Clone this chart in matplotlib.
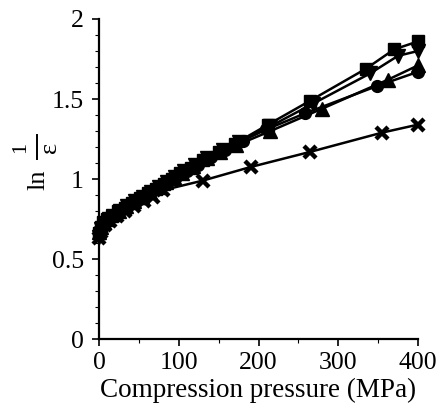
import numpy as np
import matplotlib
matplotlib.use('Agg')
import matplotlib.pyplot as plt
from matplotlib.lines import Line2D
from matplotlib.ticker import MultipleLocator

### Data (pressure in MPa, ln(1/eps))

pSquare = [0, 2, 5, 10, 16, 24, 32, 42, 52, 62, 72, 82, 92, 102, 115, 130, 150, 170, 212, 265, 335, 370, 400]
ySquare = [0.66, 0.70, 0.73, 0.75, 0.77, 0.80, 0.82, 0.85, 0.88, 0.91, 0.94, 0.97, 1.00, 1.04, 1.07, 1.12, 1.17, 1.22, 1.34, 1.49, 1.69, 1.81, 1.86]

pDown = [0, 3, 7, 12, 18, 26, 35, 45, 55, 65, 75, 85, 95, 106, 120, 135, 155, 175, 215, 268, 340, 375, 400]
yDown = [0.64, 0.69, 0.72, 0.75, 0.77, 0.80, 0.83, 0.86, 0.89, 0.92, 0.95, 0.98, 1.01, 1.05, 1.09, 1.13, 1.18, 1.23, 1.33, 1.47, 1.66, 1.77, 1.80]

pUp = [0, 2, 6, 11, 17, 25, 34, 44, 54, 64, 74, 84, 94, 104, 118, 135, 152, 172, 215, 280, 362, 400]
yUp = [0.67, 0.70, 0.73, 0.75, 0.78, 0.80, 0.83, 0.86, 0.89, 0.92, 0.95, 0.98, 1.01, 1.04, 1.08, 1.13, 1.17, 1.21, 1.30, 1.44, 1.62, 1.71]

pCircle = [0, 4, 8, 14, 21, 29, 38, 48, 58, 68, 78, 88, 98, 110, 124, 140, 158, 180, 210, 258, 348, 400]
yCircle = [0.65, 0.70, 0.73, 0.76, 0.78, 0.81, 0.84, 0.87, 0.90, 0.93, 0.96, 0.99, 1.02, 1.05, 1.09, 1.14, 1.18, 1.24, 1.31, 1.41, 1.58, 1.67]

pCross = [0, 3, 8, 14, 22, 32, 44, 56, 68, 80, 130, 190, 265, 355, 400]
yCross = [0.63, 0.67, 0.71, 0.74, 0.77, 0.80, 0.83, 0.86, 0.89, 0.93, 0.99, 1.075, 1.17, 1.29, 1.34]

yTicks = [0, 0.5, 1, 1.5, 2]
yTickLabels = ['0', '0.5', '1', '1.5', '2']

plt.rcParams['font.family'] = ['Liberation Serif', 'DejaVu Serif']

W, H = 440, 413
fig = plt.figure(figsize=(W / 100, H / 100), dpi=100)
ax = fig.add_axes([0.225, 0.179, 0.725, 0.775])

ms = 8.5
lw = 1.8
ax.plot(pSquare, ySquare, 'k-', marker='s', ms=ms, lw=lw, clip_on=False)
ax.plot(pDown, yDown, 'k-', marker='v', ms=ms + 1, lw=lw, clip_on=False)
ax.plot(pUp, yUp, 'k-', marker='^', ms=ms + 1, lw=lw, clip_on=False)
ax.plot(pCircle, yCircle, 'k-', marker='o', ms=ms, lw=lw, clip_on=False)
ax.plot(pCross, yCross, 'k-', marker='x', ms=ms, mew=3.2, lw=lw, clip_on=False)

ax.set_xlim(0, 400)
ax.set_ylim(0, 2)
ax.xaxis.set_major_locator(MultipleLocator(100))
ax.xaxis.set_minor_locator(MultipleLocator(50))
ax.set_yticks(yTicks)
ax.set_yticklabels(yTickLabels)
ax.yaxis.set_minor_locator(MultipleLocator(0.1))

ax.spines['top'].set_visible(False)
ax.spines['right'].set_visible(False)
ax.spines['left'].set_linewidth(1.6)
ax.spines['bottom'].set_linewidth(1.6)
ax.tick_params(which='major', direction='out', length=5, width=1.2, labelsize=18.5)
ax.tick_params(axis='y', which='major', pad=6)
ax.tick_params(axis='x', which='major', pad=4)
ax.tick_params(which='minor', direction='out', length=3, width=0.8)

ax.set_xlabel('Compression pressure (MPa)', fontsize=19.5, labelpad=3)

# y label "ln 1/eps" built from pieces so the fraction stays full size
def fx(px):
    return px / W

def fy(py):
    return 1 - py / H

fig.text(fx(38), fy(180), 'ln', rotation=90, fontsize=19, ha='center', va='center')
fig.text(fx(21), fy(147), '1', rotation=90, fontsize=16, ha='center', va='center')
fig.text(fx(50), fy(147), '\u03b5', rotation=90, fontsize=19, ha='center', va='center')
fig.add_artist(Line2D([fx(36.5), fx(36.5)], [fy(135), fy(159)], color='k', lw=1.4))

fig.savefig('out.png', dpi=100)
